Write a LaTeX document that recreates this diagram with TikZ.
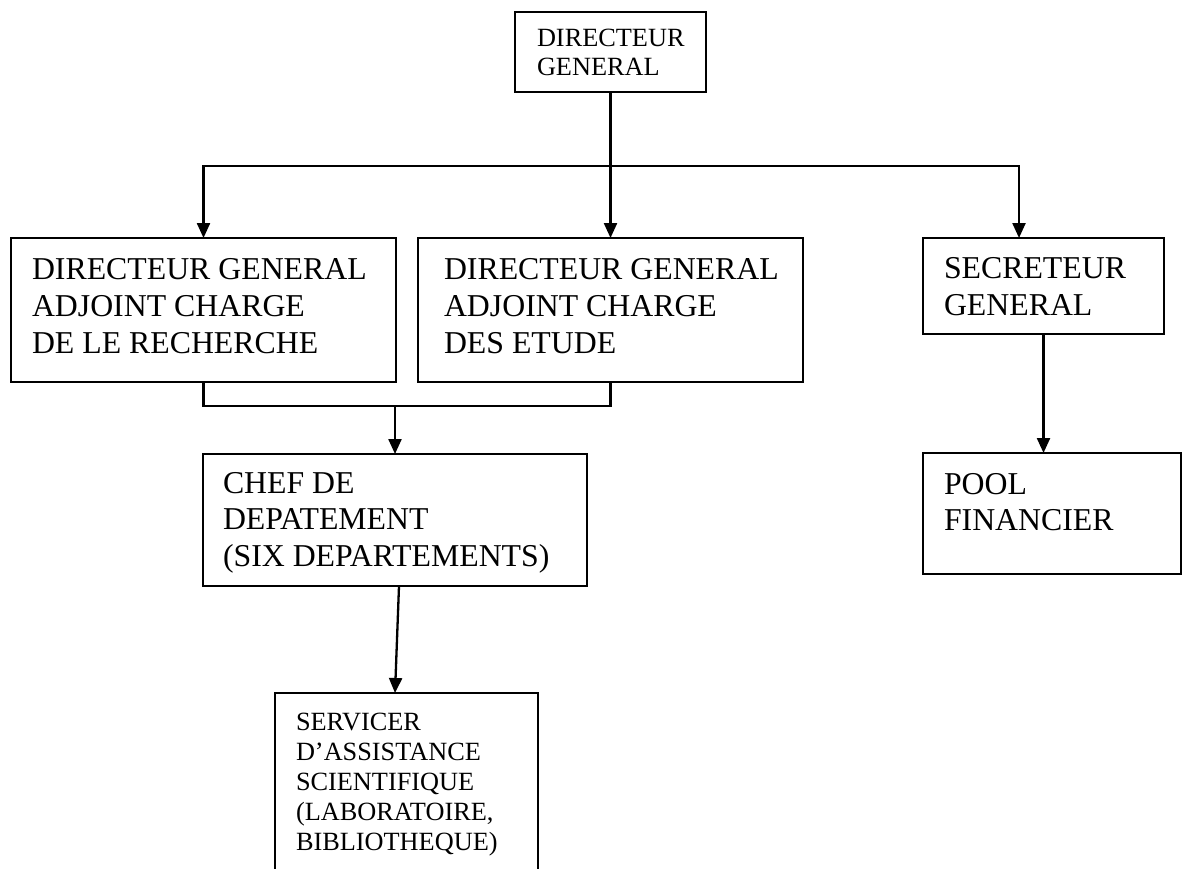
\documentclass[tikz,border=0pt]{standalone}
\usepackage{fontspec}
\setmainfont{Liberation Serif}
\usetikzlibrary{arrows.meta}
\newcommand\BigTxt{\fontsize{31.8}{36.7}\selectfont}
\newcommand\TopTxt{\fontsize{26.3}{29}\selectfont}
\newcommand\SrvTxt{\fontsize{26.3}{30}\selectfont}
\tikzset{
  box/.style={draw=black, line width=2.1pt, inner sep=0pt, outer sep=0pt, anchor=north west},
  txt/.style={inner sep=0pt, outer sep=0pt, anchor=north west, align=left},
  link/.style={line width=2.3pt},
  arr/.style={line width=2.3pt, -{Triangle[length=15pt,width=13pt]}}
}
\begin{document}
\begin{tikzpicture}[x=1pt,y=-1pt]
\clip (0,0) rectangle (1182,868);
\fill[white] (0,0) rectangle (1182,868);
% boxes
\node[box, minimum width=191pt, minimum height=80pt] (top) at (515,12) {};
\node[box, minimum width=385pt, minimum height=144pt] (dga) at (11,238) {};
\node[box, minimum width=385pt, minimum height=144pt] (dge) at (418,238) {};
\node[box, minimum width=241pt, minimum height=96pt] (sg) at (923,238) {};
\node[box, minimum width=384pt, minimum height=132pt] (chef) at (203,454) {};
\node[box, minimum width=258pt, minimum height=121pt] (pool) at (923,453) {};
\node[box, minimum width=263pt, minimum height=220pt] (serv) at (275,693) {};
% texts
\node[txt, font=\TopTxt] (top-t) at (537,25.7) {\strut DIRECTEUR\\GENERAL};
\node[txt, font=\BigTxt] (dga-t) at (32,254.3) {\strut DIRECTEUR GENERAL\\ADJOINT CHARGE\\DE LE RECHERCHE};
\node[txt, font=\BigTxt] (dge-t) at (444,254.3) {\strut DIRECTEUR GENERAL\\ADJOINT CHARGE\\DES ETUDE};
\node[txt, font=\BigTxt] (sg-t) at (944,253.3) {\strut SECRETEUR\\GENERAL};
\node[txt, font=\BigTxt] (chef-t) at (223,467.3) {\strut CHEF DE\\DEPATEMENT\\(SIX DEPARTEMENTS)};
\node[txt, font=\BigTxt] (pool-t) at (944,468.3) {\strut POOL\\FINANCIER};
\node[txt, font=\SrvTxt] (serv-t) at (296,709) {\strut SERVICER\\D’ASSISTANCE\\SCIENTIFIQUE\\(LABORATOIRE,\\BIBLIOTHEQUE)};
% junction points
\coordinate (jt) at (610.5,166);
\coordinate (sgin) at (1019,238);
\coordinate (jb) at (395,406);
\coordinate (chefout) at (399,586);
\coordinate (servin) at (395,693);
\coordinate (poolin) at (1043.5,453);
% connectors
\draw[link] (top.south) -- (jt);
\draw[arr] (jt) -| (dga.north);
\draw[arr] (jt) -- (dge.north);
\draw[arr] (jt) -| (sgin);
\draw[link] (dga.south) |- (jb) -| (dge.south);
\draw[arr] (jb) -- (chef.north);
\draw[arr] (chefout) -- (servin);
\draw[arr] (sg.south) -- (poolin);
\end{tikzpicture}
\end{document}
